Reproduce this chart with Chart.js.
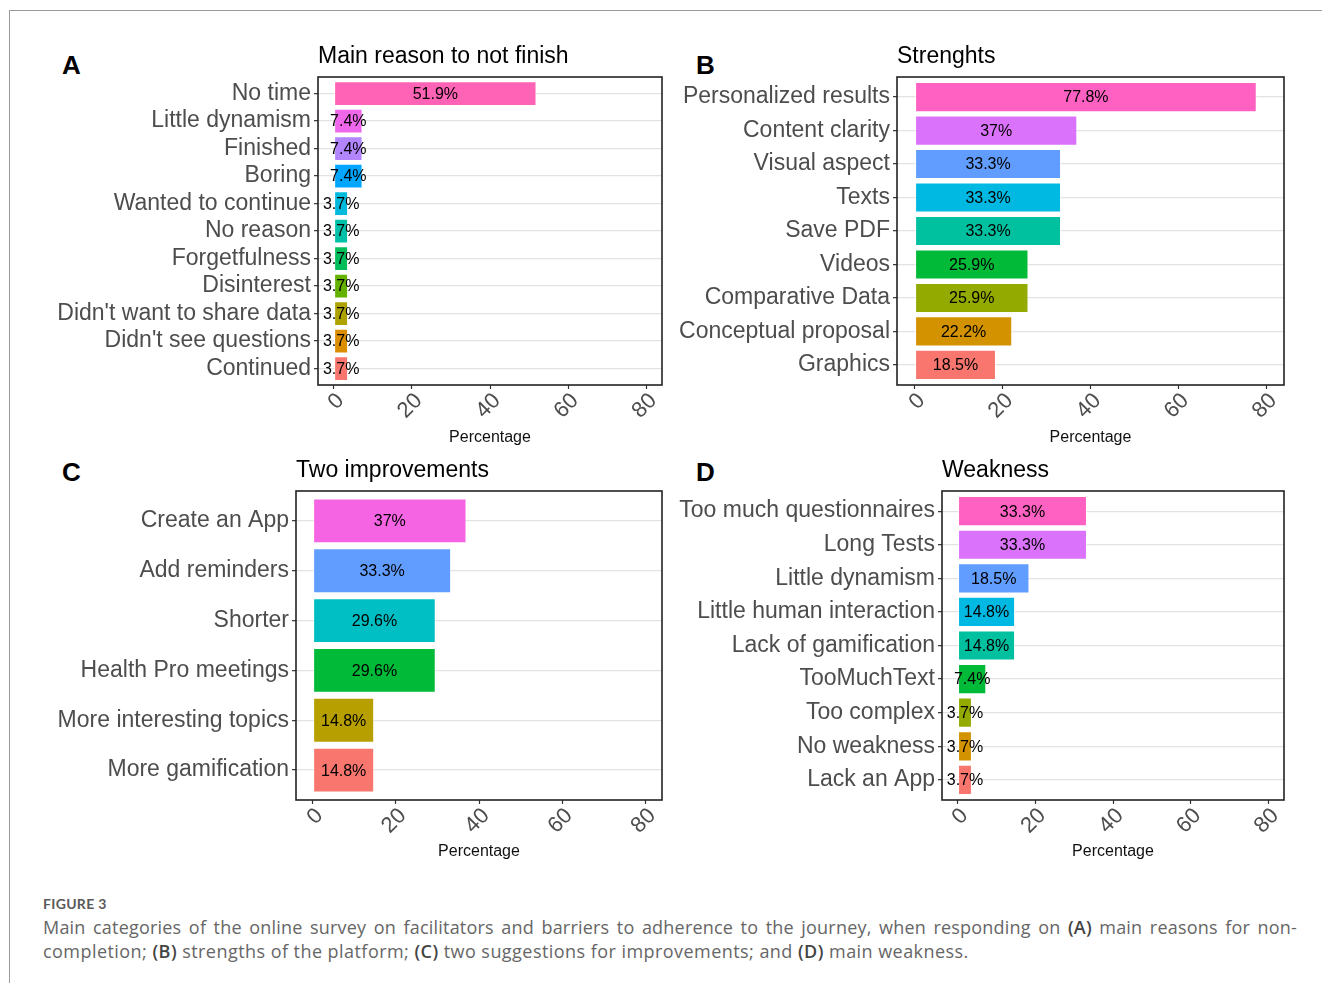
<!DOCTYPE html>
<html><head><meta charset="utf-8">
<script src="https://cdn.jsdelivr.net/npm/chart.js@4/dist/chart.umd.min.js"></script>
<style>
html,body{margin:0;padding:0;background:#fff;width:1322px;height:983px;overflow:hidden;position:relative;font-family:"Liberation Sans",Arial,sans-serif;}
canvas{position:absolute;}
.frameTop{position:absolute;left:9px;top:10px;width:1313px;height:0;border-top:1.5px solid #9a9a9a;}
.frameLeft{position:absolute;left:9px;top:10px;width:0;height:973px;border-left:1.5px solid #9a9a9a;}
.letter{position:absolute;font:bold 26px "Liberation Sans",Arial,sans-serif;color:#000;line-height:26px;}
.fig{position:absolute;left:43px;top:895px;font:bold 14px Lato,sans-serif;color:#5a5a5a;letter-spacing:0.3px;line-height:18px;}
.cap{position:absolute;left:43px;width:1254px;font:18px "Open Sans",sans-serif;color:#666;line-height:24px;white-space:nowrap;letter-spacing:0.45px;}
.cap.j{text-align:justify;text-align-last:justify;letter-spacing:0.2px;}
.cap b{color:#444;font-weight:600;}
</style></head>
<body>
<div class="frameTop"></div><div class="frameLeft"></div>
<div class="letter" style="left:62px;top:52px;">A</div>
<div class="letter" style="left:696px;top:52px;">B</div>
<div class="letter" style="left:62px;top:459px;">C</div>
<div class="letter" style="left:696px;top:459px;">D</div>
<canvas id="cA" width="654" height="410" style="left:18px;top:41px;"></canvas>
<canvas id="cB" width="624" height="410" style="left:670px;top:41px;"></canvas>
<canvas id="cC" width="654" height="410" style="left:18px;top:455px;"></canvas>
<canvas id="cD" width="624" height="410" style="left:670px;top:455px;"></canvas>
<div class="fig">FIGURE 3</div>
<div class="cap j" style="top:915px;">Main categories of the online survey on facilitators and barriers to adherence to the journey, when responding on <b>(A)</b> main reasons for non-</div>
<div class="cap" style="top:939px;">completion; <b>(B)</b> strengths of the platform; <b>(C)</b> two suggestions for improvements; and <b>(D)</b> main weakness.</div>
<script>
const catA = ["No time","Little dynamism","Finished","Boring","Wanted to continue","No reason","Forgetfulness","Disinterest","Didn't want to share data","Didn't see questions","Continued"];
const valA = [51.9,7.4,7.4,7.4,3.7,3.7,3.7,3.7,3.7,3.7,3.7];
const colA = ["#FF63B6","#EF67EB","#B385FF","#00A6FF","#00BADE","#00C1A7","#00BD5C","#64B200","#AEA200","#DB8E00","#F8766D"];

const catB = ["Personalized results","Content clarity","Visual aspect","Texts","Save PDF","Videos","Comparative Data","Conceptual proposal","Graphics"];
const valB = [77.8,37,33.3,33.3,33.3,25.9,25.9,22.2,18.5];
const colB = ["#FF61C3","#DB72FB","#619CFF","#00B9E3","#00C19F","#00BA38","#93AA00","#D39200","#F8766D"];

const catC = ["Create an App","Add reminders","Shorter","Health Pro meetings","More interesting topics","More gamification"];
const valC = [37,33.3,29.6,29.6,14.8,14.8];
const colC = ["#F564E3","#619CFF","#00BFC4","#00BA38","#B79F00","#F8766D"];

const catD = ["Too much questionnaires","Long Tests","Little dynamism","Little human interaction","Lack of gamification","TooMuchText","Too complex","No weakness","Lack an App"];
const valD = [33.3,33.3,18.5,14.8,14.8,7.4,3.7,3.7,3.7];
const colD = ["#FF61C3","#DB72FB","#619CFF","#00B9E3","#00C19F","#00BA38","#93AA00","#D39200","#F8766D"];

const xTicks = [0,20,40,60,80];
const xMin = -4, xMax = 84;
const catExpand = 0.6;   // ggplot discrete-axis expansion

const FONT = '"Liberation Sans", Arial, sans-serif';

const boxPlugin = {
  id: 'panelBox',
  afterDraw(chart) {
    const a = chart.chartArea, ctx = chart.ctx;
    ctx.save();
    ctx.strokeStyle = '#222';
    ctx.lineWidth = 1.6;
    ctx.strokeRect(a.left, a.top, a.right - a.left, a.bottom - a.top);
    ctx.restore();
  }
};
const labelPlugin = {
  id: 'barLabels',
  afterDatasetsDraw(chart) {
    const ctx = chart.ctx;
    const meta = chart.getDatasetMeta(0);
    const ds = chart.data.datasets[0];
    ctx.save();
    ctx.font = '16px ' + FONT;
    ctx.fillStyle = '#000';
    ctx.textAlign = 'center';
    ctx.textBaseline = 'middle';
    meta.data.forEach((el, i) => {
      const p = el.getProps(['x','y','base'], true);
      ctx.fillText(ds.data[i].x + '%', (p.x + p.base) / 2, p.y + 1);
    });
    ctx.restore();
  }
};

function makeChart(id, cats, vals, cols, title, yWidth, xHeight) {
  const points = vals.map((v, i) => ({ x: v, y: i }));
  new Chart(document.getElementById(id), {
    type: 'bar',
    data: {
      datasets: [{
        data: points,
        backgroundColor: cols,
        borderColor: 'rgba(255,255,255,0.75)',
        borderWidth: 1,
        borderSkipped: false,
        barPercentage: 0.9,
        categoryPercentage: 1.0
      }]
    },
    options: {
      indexAxis: 'y',
      responsive: false,
      animation: false,
      events: [],
      layout: { padding: { left: 0, right: 10, top: 0, bottom: 0 } },
      plugins: {
        legend: { display: false },
        tooltip: { enabled: false },
        title: {
          display: true, text: title, align: 'start', fullSize: false,
          color: '#000', font: { family: FONT, size: 23, weight: 'normal', lineHeight: '28px' },
          padding: { top: 2, bottom: 6 }
        }
      },
      scales: {
        x: {
          type: 'linear', min: xMin, max: xMax, offset: false,
          afterBuildTicks: s => { s.ticks = xTicks.map(v => ({ value: v })); },
          afterFit: s => { s.height = xHeight; },
          ticks: { minRotation: 45, maxRotation: 45, color: '#4D4D4D', padding: -1, labelOffset: 7,
                   font: { family: FONT, size: 22 }, callback: v => String(v) },
          grid: { display: true, offset: false, drawOnChartArea: false, drawTicks: true, tickLength: 4,
                  tickColor: '#333', tickWidth: 1.2 },
          border: { display: false },
          title: { display: true, text: 'Percentage', color: '#111',
                   font: { family: FONT, size: 16 }, padding: { top: 4, bottom: 4 } }
        },
        y: {
          type: 'linear', reverse: true, offset: false, bounds: 'data',
          min: -catExpand, max: cats.length - 1 + catExpand,
          afterBuildTicks: s => { s.ticks = cats.map((c, i) => ({ value: i })); },
          afterFit: s => { s.width = yWidth; },
          ticks: { color: '#4D4D4D', padding: 3, autoSkip: false,
                   font: { family: FONT, size: 23 }, callback: v => cats[v] },
          grid: { offset: false, color: '#E2E2E2', lineWidth: 1.3, drawTicks: true,
                  tickLength: 4, tickColor: '#333', tickWidth: 1.2 },
          border: { display: false }
        }
      }
    },
    plugins: [boxPlugin, labelPlugin]
  });
}

makeChart('cA', catA, valA, colA, 'Main reason to not finish', 300, 66);
makeChart('cB', catB, valB, colB, 'Strenghts', 227, 66);
makeChart('cC', catC, valC, colC, 'Two improvements', 278, 65);
makeChart('cD', catD, valD, colD, 'Weakness', 272, 65);
</script>
</body></html>
